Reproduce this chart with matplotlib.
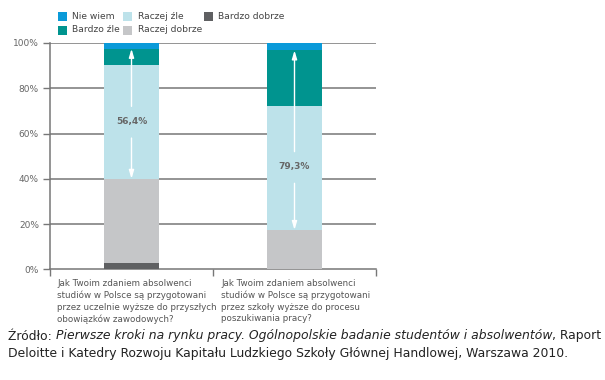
import matplotlib
matplotlib.use("Agg")
import numpy as np
import matplotlib.pyplot as plt
from matplotlib.patches import Rectangle

# Data (percent of answers)
questions = [
    "Jak Twoim zdaniem absolwenci\nstudiów w Polsce są przygotowani\nprzez uczelnie wyższe do przyszłych\nobowiązków zawodowych?",
    "Jak Twoim zdaniem absolwenci\nstudiów w Polsce są przygotowani\nprzez szkoły wyższe do procesu\nposzukiwania pracy?",
]
bardzo_dobrze = [2.6, 0.0]
raczej_dobrze = [37.4, 17.4]
raczej_zle = [50.3, 54.9]
bardzo_zle = [7.1, 24.4]
nie_wiem = [2.6, 3.3]
arrow_labels = ["56,4%", "79,3%"]
y_ticks = [0, 20, 40, 60, 80, 100]

series = [
    ("Bardzo dobrze", bardzo_dobrze, "#5f6062"),
    ("Raczej dobrze", raczej_dobrze, "#c5c6c8"),
    ("Raczej źle", raczej_zle, "#bde2ea"),
    ("Bardzo źle", bardzo_zle, "#00948f"),
    ("Nie wiem", nie_wiem, "#0a9ad9"),
]
colors = {name: c for name, _, c in series}

W, H = 605, 380
fig = plt.figure(figsize=(W / 100, H / 100), dpi=100)
ax = fig.add_axes([50 / W, 1 - 269.3 / H, 326 / W, 226.3 / H])

x = np.array([0.5, 1.5])
width = 0.337
bottom = np.zeros(2)
for name, vals, c in series:
    ax.bar(x, vals, width, bottom=bottom, color=c, zorder=3, linewidth=0)
    bottom += np.array(vals)

ax.set_xlim(0, 2)
ax.set_ylim(0, 100)
ax.set_yticks(y_ticks)
ax.set_yticklabels([f"{t}%" for t in y_ticks], fontsize=6.5, color="#666666")
ax.set_xticks([0, 1, 2])
ax.set_xticklabels([])
ax.tick_params(axis="y", length=5, color="#777777", width=1, pad=3)
ax.tick_params(axis="x", length=5, color="#777777", width=1)
for t in y_ticks[1:]:
    ax.axhline(t, color="#777777", lw=1.1, zorder=1)
for side in ["top", "right"]:
    ax.spines[side].set_visible(False)
for side in ["left", "bottom"]:
    ax.spines[side].set_color("#777777")
    ax.spines[side].set_linewidth(1.1)

# white double arrows with the share of negative answers
label_y = [65.2, 45.3]
gaps = [(58, 72), (38, 52)]
for i in range(2):
    lo = raczej_dobrze[i] + bardzo_dobrze[i]
    hi = lo + raczej_zle[i] + bardzo_zle[i]
    for start, end in [(gaps[i][1], hi), (gaps[i][0], lo)]:
        ax.annotate("", xy=(x[i], end), xytext=(x[i], start),
                    arrowprops=dict(arrowstyle="-|>,head_length=0.5,head_width=0.15",
                                    color="white", lw=1.0, shrinkA=0, shrinkB=0), zorder=5)
    ax.text(x[i], label_y[i], arrow_labels[i], ha="center", va="center",
            fontsize=6.5, fontweight="bold", color="#666666", zorder=6)

# question labels under the bars
for i, q in enumerate(questions):
    fig.text([57 / W, 221 / W][i], 1 - 279 / H, q, ha="left", va="top",
             fontsize=6.3, color="#555555", linespacing=1.35)

# legend, placed by hand like in the original
legend_items = [("Nie wiem", 58, 16.5), ("Bardzo źle", 58, 30),
                ("Raczej źle", 123, 16.5), ("Raczej dobrze", 123, 30),
                ("Bardzo dobrze", 204, 16.5)]
for name, lx, ly in legend_items:
    fig.patches.append(Rectangle((lx / W, 1 - (ly + 4.5) / H), 9 / W, 9 / H,
                                 transform=fig.transFigure, facecolor=colors[name],
                                 edgecolor="none"))
    fig.text((lx + 14.5) / W, 1 - ly / H, name, fontsize=6.6, color="#444444",
             ha="left", va="center")

# source note with italic title
fig.canvas.draw()
renderer = fig.canvas.get_renderer()
src_size = 8.9
pieces = [("Źródło: ", "normal"),
          ("Pierwsze kroki na rynku pracy. Ogólnopolskie badanie studentów i absolwentów", "italic"),
          (", Raport", "normal")]
xpos = 8 / W
for txt, style in pieces:
    t = fig.text(xpos, 1 - 336 / H, txt, fontsize=src_size, style=style,
                 color="#222222", va="center", ha="left")
    bb = t.get_window_extent(renderer)
    xpos = bb.x1 / W
fig.text(8 / W, 1 - 354 / H,
         "Deloitte i Katedry Rozwoju Kapitału Ludzkiego Szkoły Głównej Handlowej, Warszawa 2010.",
         fontsize=src_size, color="#222222", va="center", ha="left")

fig.savefig("out.png", dpi=100)
